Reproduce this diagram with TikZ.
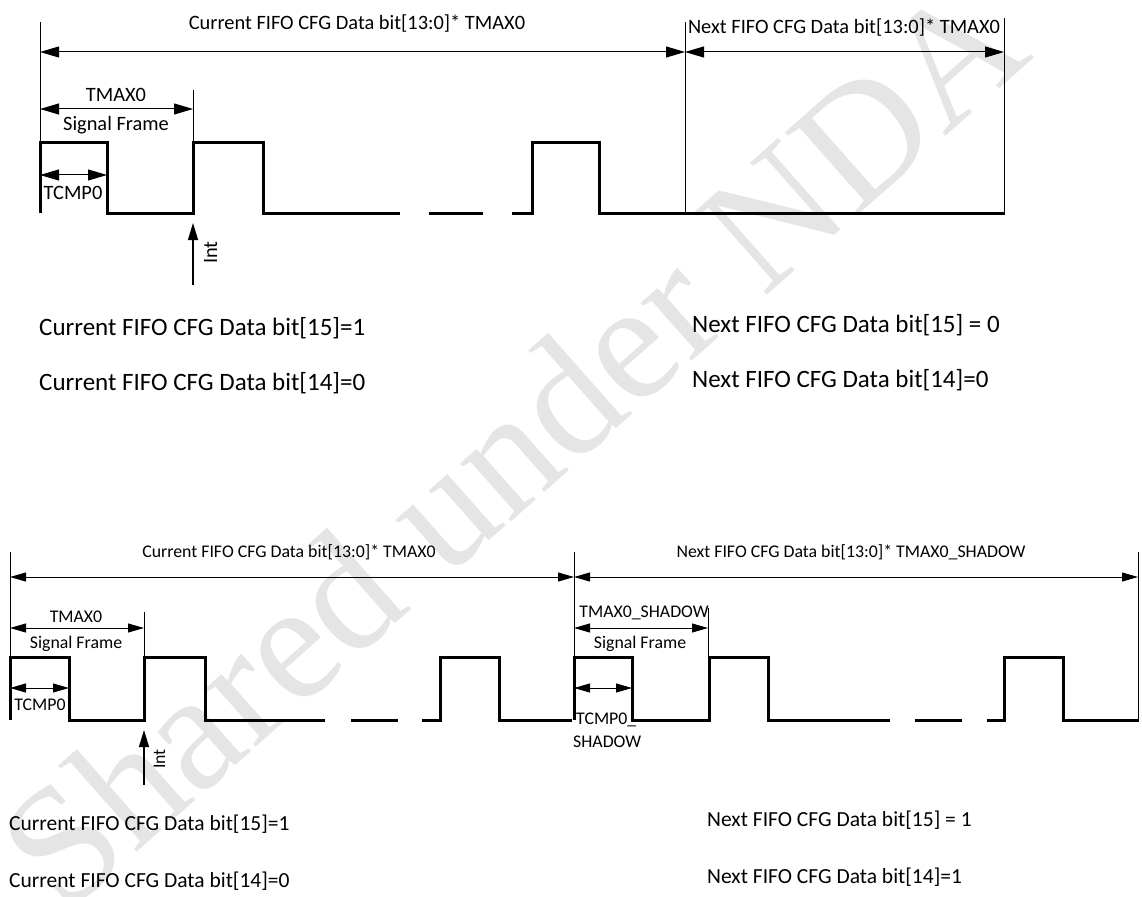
\documentclass[tikz,border=0pt]{standalone}
\usepackage{fontspec}
\setmainfont{Carlito}
\newfontfamily\wmfont{Liberation Serif}
\usetikzlibrary{arrows.meta}

\begin{document}
\begin{tikzpicture}[x=1pt, y=-1pt,
  sig/.style={line width=3pt, line join=miter},
  tck/.style={line width=1pt},
  dimA/.style={line width=1pt, {Triangle[length=19pt,width=11pt]}-{Triangle[length=19pt,width=11pt]}},
  dimB/.style={line width=0.9pt, {Triangle[length=16pt,width=9pt]}-{Triangle[length=16pt,width=9pt]}},
  uparr/.style={line width=1.3pt, -{Triangle[length=17pt,width=10pt]}},
  labA/.style={inner sep=0pt, font=\fontsize{20.4}{24}\selectfont},
  labB/.style={inner sep=0pt, font=\fontsize{17.8}{21}\selectfont},
  txtA/.style={inner sep=0pt, anchor=base west, font=\fontsize{25}{30}\selectfont},
  txtB/.style={inner sep=0pt, anchor=base west, font=\fontsize{21.5}{26}\selectfont}]

  \useasboundingbox (0,0) rectangle (1142,896);

  % watermark
  \node[rotate=41.5, text=black!10, font=\fontsize{168}{168}\selectfont\wmfont] (wm) at (512,444) {Shared under NDA};

  % upper timing
  \draw[tck] (40,22) -- (40,143);
  \draw[tck] (685,22) -- (685,213);
  \draw[tck] (1004,18) -- (1004,213);
  \draw[tck] (193,90) -- (193,143);

  \coordinate (u0) at (40,52);
  \coordinate (u1) at (685,52);
  \coordinate (u2) at (1004,52);
  \draw[dimA] (u0) -- (u1);
  \draw[dimA] (u1) -- (u2);
  \node[labA, anchor=base] (curA) at (357,30) {Current FIFO CFG Data bit[13:0]* TMAX0};
  \node[labA, anchor=base] (nxtA) at (844,34) {Next FIFO CFG Data bit[13:0]* TMAX0};

  \coordinate (f0) at (40,109);
  \coordinate (f1) at (193,109);
  \draw[dimA] (f0) -- (f1);
  \node[labA, anchor=base] (tmaxA) at (116,102) {TMAX0};
  \node[labA, anchor=base] (frmA) at (116,131) {Signal Frame};

  \coordinate (p0) at (40,175);
  \coordinate (p1) at (107,175);
  \draw[dimA] (p0) -- (p1);
  \node[labA, anchor=base] (cmpA) at (73,200) {TCMP0};

  \draw[sig] (40,213) -- (40,143) -- (107,143) -- (107,213) -- (193,213) -- (193,143)
    -- (263,143) -- (263,213) -- (400,213);
  \draw[sig] (429,213) -- (483,213);
  \draw[sig] (512,213) -- (532,213) -- (532,143) -- (599,143) -- (599,213) -- (1005,213);

  \coordinate (iA0) at (193,285);
  \coordinate (iA1) at (193,223);
  \draw[uparr] (iA0) -- (iA1);
  \node[labA, rotate=90, anchor=base west] (intA) at (217,264) {Int};

  \node[txtA] (c15A) at (39,335) {Current FIFO CFG Data bit[15]=1};
  \node[txtA] (c14A) at (39,390) {Current FIFO CFG Data bit[14]=0};
  \node[txtA] (n15A) at (692,332) {Next FIFO CFG Data bit[15] = 0};
  \node[txtA] (n14A) at (692,387) {Next FIFO CFG Data bit[14]=0};

  % lower timing
  \draw[tck] (10,552) -- (10,657);
  \draw[tck] (574,552) -- (574,657);
  \draw[tck] (1138,552) -- (1138,720);
  \draw[tck] (144,612) -- (144,657);
  \draw[tck] (708,608) -- (708,657);

  \coordinate (v0) at (10,577);
  \coordinate (v1) at (574,577);
  \coordinate (v2) at (1138,577);
  \draw[dimB] (v0) -- (v1);
  \draw[dimB] (v1) -- (v2);
  \node[labB, anchor=base] (curB) at (289,557) {Current FIFO CFG Data bit[13:0]* TMAX0};
  \node[labB, anchor=base] (nxtB) at (851,557) {Next FIFO CFG Data bit[13:0]* TMAX0\_SHADOW};

  \coordinate (g0) at (10,628);
  \coordinate (g1) at (144,628);
  \draw[dimB] (g0) -- (g1);
  \node[labB, anchor=base] (tmaxB) at (76,622) {TMAX0};
  \node[labB, anchor=base] (frmB) at (76,648) {Signal Frame};

  \coordinate (q0) at (10,688);
  \coordinate (q1) at (69,688);
  \draw[dimB] (q0) -- (q1);
  \node[labB, anchor=base] (cmpB) at (40,710) {TCMP0};

  \coordinate (h0) at (574,628);
  \coordinate (h1) at (708,628);
  \draw[dimB] (h0) -- (h1);
  \node[labB, anchor=base] (tmaxS) at (644,617) {TMAX0\_SHADOW};
  \node[labB, anchor=base] (frmS) at (640,648) {Signal Frame};

  \coordinate (s0) at (574,688);
  \coordinate (s1) at (632,688);
  \draw[dimB] (s0) -- (s1);
  \node[labB, anchor=base west] (cmpS1) at (576,724) {TCMP0\_};
  \node[labB, anchor=base west] (cmpS2) at (573,747) {SHADOW};

  \draw[sig] (10,720) -- (10,657) -- (69,657) -- (69,720) -- (144,720) -- (144,657)
    -- (205,657) -- (205,720) -- (325,720);
  \draw[sig] (351,720) -- (398,720);
  \draw[sig] (422,720) -- (440,720) -- (440,657) -- (499,657) -- (499,720) -- (572,720);
  \draw[sig] (574,720) -- (574,657) -- (632,657) -- (632,720) -- (709,720) -- (709,657)
    -- (768,657) -- (768,720) -- (890,720);
  \draw[sig] (915,720) -- (962,720);
  \draw[sig] (987,720) -- (1004,720) -- (1004,657) -- (1063,657) -- (1063,720) -- (1139,720);

  \coordinate (iB0) at (144,785);
  \coordinate (iB1) at (144,730);
  \draw[uparr] (iB0) -- (iB1);
  \node[labB, rotate=90, anchor=base west] (intB) at (165,769) {Int};

  \node[txtB] (c15B) at (9,830) {Current FIFO CFG Data bit[15]=1};
  \node[txtB] (c14B) at (9,887) {Current FIFO CFG Data bit[14]=0};
  \node[txtB] (n15B) at (707,826) {Next FIFO CFG Data bit[15] = 1};
  \node[txtB] (n14B) at (707,883) {Next FIFO CFG Data bit[14]=1};
\end{tikzpicture}
\end{document}
